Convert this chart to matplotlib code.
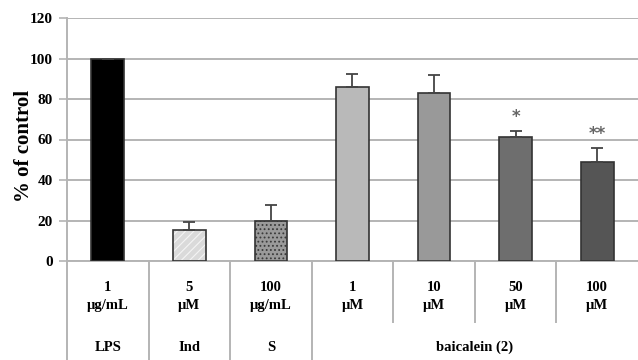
import matplotlib.pyplot as plt
import matplotlib.transforms as mtransforms

plt.rcParams['font.family'] = ['Liberation Serif', 'DejaVu Serif']
plt.rcParams['font.weight'] = 'bold'
plt.rcParams['hatch.linewidth'] = 0.8

doses = ['1\nµg/mL', '5\nµM', '100\nµg/mL', '1\nµM', '10\nµM', '50\nµM', '100\nµM']
groups = ['LPS', 'Ind', 'S', 'baicalein (2)']
group_span = [(0, 0), (1, 1), (2, 2), (3, 6)]
values = [100, 15.3, 19.8, 86.1, 82.8, 61.4, 48.7]
errors = [0, 4.1, 7.8, 6.4, 9.1, 3.0, 7.3]
stars = ['', '', '', '', '', '*', '**']

fills = ['#000000', '#dadada', '#9a9a9a', '#b9b9b9', '#999999', '#6e6e6e', '#555555']
hatches = [None, '////', '....', None, None, None, None]
hatch_cols = [None, '#f4f4f4', '#3a3a3a', None, None, None, None]

fig = plt.figure(figsize=(6.38, 3.6), dpi=100)
ax = fig.add_axes([0.105, 0.275, 0.895, 0.675])

x = list(range(len(values)))
grid_col = '#b4b4b4'

ax.set_axisbelow(True)
ax.yaxis.grid(True, color=grid_col, lw=1.4)

for i in x:
    if hatches[i]:
        ax.bar(i, values[i], 0.4, color=fills[i], edgecolor=hatch_cols[i],
               hatch=hatches[i], lw=0, zorder=2)
        ax.bar(i, values[i], 0.4, color='none', edgecolor='#333333', lw=1.2, zorder=3)
    else:
        ax.bar(i, values[i], 0.4, color=fills[i], edgecolor='#333333', lw=1.2, zorder=3)

ax.errorbar(x, values, yerr=[[0] * len(errors), errors], fmt='none',
            ecolor='#444444', elinewidth=1.3, capsize=4, capthick=1.3, zorder=4)

for i in x:
    if stars[i]:
        ax.text(i, values[i] + errors[i] + 6.8, stars[i], ha='center', va='center',
                fontsize=12, color='#666666', family='DejaVu Sans')

ax.set_xlim(-0.5, len(values) - 0.5)
ax.set_ylim(0, 120)
ax.set_yticks(range(0, 121, 20))
ax.set_xticks([])
ax.tick_params(axis='y', length=6, width=1.2, color=grid_col, labelsize=11, pad=4)
for lab in ax.get_yticklabels():
    lab.set_fontweight('bold')
fig.text(24 / 638, 0.594, '% of control', rotation=90, ha='center', va='center',
         fontsize=15, fontweight='bold')

for s in ['top', 'right']:
    ax.spines[s].set_visible(False)
ax.spines['left'].set_color(grid_col)
ax.spines['left'].set_linewidth(1.4)
ax.spines['bottom'].set_color(grid_col)
ax.spines['bottom'].set_linewidth(1.4)

# table of doses and group names under the axis
trans = mtransforms.blended_transform_factory(ax.transData, ax.transAxes)
bottom = -0.41
mid = -0.25
ax.plot([-0.5, -0.5], [0, bottom], color=grid_col, lw=1.4, transform=trans, clip_on=False)
for i in range(1, len(values)):
    inside = any(a < i <= b for a, b in group_span)
    ax.plot([i - 0.5, i - 0.5], [0, mid if inside else bottom], color=grid_col, lw=1.4,
            transform=trans, clip_on=False)

for i, d in enumerate(doses):
    ax.text(i, -0.145, d, ha='center', va='center', fontsize=10.5, fontweight='bold',
            linespacing=1.5, transform=trans)

for g, (a, b) in zip(groups, group_span):
    ax.text((a + b) / 2, -0.355, g, ha='center', va='center', fontsize=10.5,
            fontweight='bold', transform=trans)

fig.savefig('out.png', dpi=100)
